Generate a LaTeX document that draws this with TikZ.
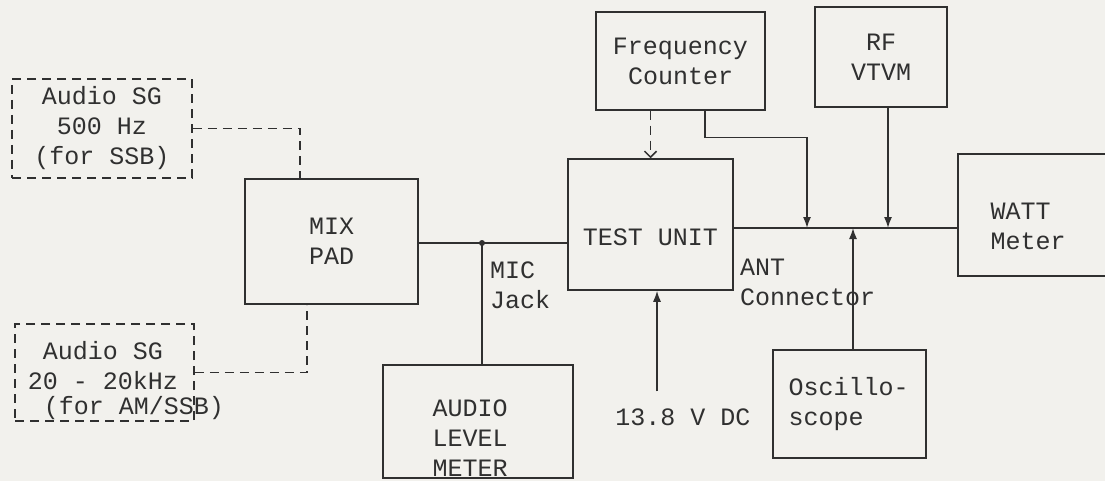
\documentclass[tikz,border=0pt]{standalone}
\usepackage{fontspec}
\setmainfont{Liberation Mono}
\usetikzlibrary{arrows.meta, positioning, calc}
\definecolor{ink}{RGB}{48,48,48}
\definecolor{paper}{RGB}{242,241,237}

\begin{document}
\begin{tikzpicture}[
	x=1pt, y=-1pt,
	every node/.style={font=\fontsize{25}{30}\selectfont, text=ink},
	unit/.style={rectangle, draw=ink, line width=1.5pt, inner sep=0pt, align=center},
	source/.style={unit, dash pattern=on 9pt off 6pt},
	wire/.style={draw=ink, line width=1.5pt},
	dashwire/.style={wire, dash pattern=on 9pt off 6pt},
	arrow/.style={wire, -{Latex[length=11pt,width=8pt]}},
	probe/.style={dashwire, -{Straight Barb[length=6pt,width=12pt]}}
]
\useasboundingbox (0,0) rectangle (1105,481);
\fill[paper] (0,0) rectangle (1105,481);

% Signal sources (dashed)
\node[source, minimum width=180pt, minimum height=99pt] (sg500) at (102,128.5) {Audio SG\\500 Hz\\(for SSB)};
\node[source, minimum width=179pt, minimum height=97pt,
	label={[xshift=21.5pt, yshift=-8pt, align=left]center:{\hspace*{15pt}Audio SG\\20 - 20kHz\\[-5pt]\hspace*{16pt}(for AM/SSB)}}] (sgwide) at (104.5,372.5) {};

% Units
\node[unit, minimum width=173pt, minimum height=125pt] (mix) at (331.5,241.5) {MIX\\PAD};
\node[unit, minimum width=165pt, minimum height=131pt, label={[yshift=-13pt]center:TEST UNIT}] (test) at (650.5,224.5) {};
\node[unit, minimum width=169pt, minimum height=98pt] (freq) at (680.5,61) {Frequency\\Counter};
\node[unit, minimum width=132pt, minimum height=100pt] (rfv) at (881,57) {RF\\VTVM};
\node[unit, minimum width=162pt, minimum height=122pt,
	label={[xshift=-11pt, yshift=-11pt, align=left]center:{WATT\\Meter}}] (watt) at (1039,215) {};
\node[unit, minimum width=153pt, minimum height=108pt, text width=122pt, align=left] (osc) at (849.5,404) {Oscillo-\\scope};
\node[unit, minimum width=190pt, minimum height=113pt,
	label={[xshift=-8pt, yshift=-17pt, align=center]center:{AUDIO\\LEVEL\\METER}}] (alm) at (478,421.5) {};

% Labels
\node[inner sep=0pt, anchor=west, align=left] (micj) at (490,285) {MIC\\Jack};
\node[inner sep=0pt, anchor=west, align=left] (antc) at (740,282) {ANT\\Connector};
\node[inner sep=0pt] (dc) at (683,417) {13.8 V DC};

% Tap points
\coordinate (jack) at (482,243);
\coordinate (tapF) at (807,228);
\coordinate (tapO) at (853,228);
\coordinate (tapR) at (888,228);
\coordinate (dcin) at ([xshift=6.5pt]test.south);

% Audio path
\draw[dashwire] (sg500.east) -| ([xshift=-31.5pt]mix.north);
\draw[dashwire] (sgwide.east) -| ([xshift=-24.5pt]mix.south);
\draw[wire] (jack -| mix.east) -- (jack -| test.west);
\fill[ink] (jack) circle (3pt);
\draw[wire] (jack) -- (jack |- alm.north);

% RF path
\draw[probe] (test.north |- freq.south) -- (test.north);
\draw[wire] (tapF -| test.east) -- (tapF -| watt.west);
\draw[arrow] ([xshift=24.5pt]freq.south) -- ++(0,27) -| (tapF);
\draw[arrow] (rfv.south -| tapR) -- (tapR);
\draw[arrow] (osc.north -| tapO) -- (tapO);
\draw[arrow] (dc.north -| dcin) ++(0,-17) -- (dcin);

\end{tikzpicture}
\end{document}
